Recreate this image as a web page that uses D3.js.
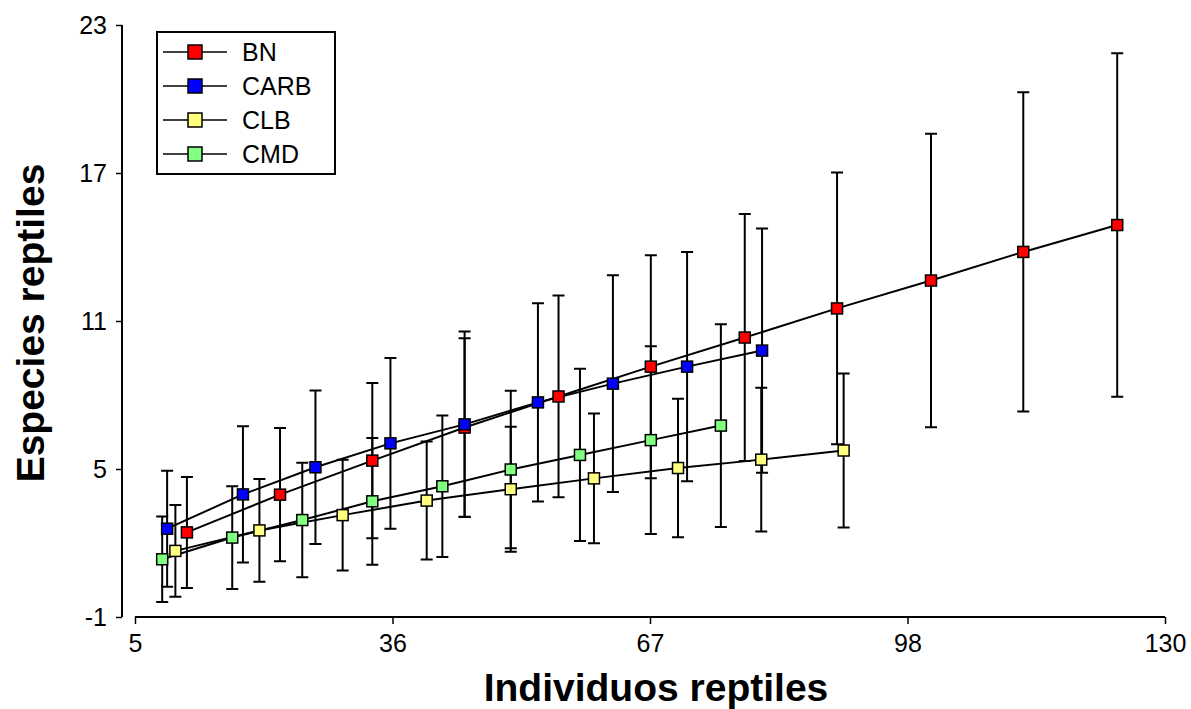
<!DOCTYPE html>
<html>
<head>
<meta charset="utf-8">
<script src="https://cdn.jsdelivr.net/npm/d3@7"></script>
<style>
  body { margin: 0; background: #fff; }
  svg { display: block; font-family: "Liberation Sans", Arial, sans-serif; }
</style>
</head>
<body>
<div id="chart"></div>
<script>
// series names and colours
var seriesNames = ["BN", "CARB", "CLB", "CMD"];
var seriesColors = ["#ff0000", "#0000ff", "#ffff80", "#80ff80"];

// individuals (x), species (y) and error half-widths
var bnX = [11.3, 22.6, 33.8, 45.0, 56.4, 67.6, 79.0, 90.2, 101.6, 112.8, 124.2];
var bnY = [2.43, 3.96, 5.34, 6.68, 7.94, 9.15, 10.33, 11.51, 12.64, 13.80, 14.89];
var bnErr = [2.25, 2.70, 3.15, 3.62, 4.09, 4.52, 5.01, 5.51, 5.95, 6.47, 6.96];

var carbX = [8.9, 18.1, 26.9, 36.0, 45.0, 53.9, 63.0, 72.0, 81.1];
var carbY = [2.58, 3.97, 5.07, 6.04, 6.81, 7.70, 8.46, 9.15, 9.80];
var carbErr = [2.35, 2.76, 3.11, 3.46, 3.76, 4.02, 4.39, 4.65, 4.95];

var clbX = [9.9, 20.1, 30.2, 40.4, 50.6, 60.7, 70.9, 81.0, 91.0];
var clbY = [1.68, 2.51, 3.13, 3.72, 4.18, 4.62, 5.04, 5.38, 5.75];
var clbErr = [1.86, 2.08, 2.24, 2.39, 2.53, 2.63, 2.81, 2.91, 3.12];

var cmdX = [8.3, 16.8, 25.3, 33.8, 42.3, 50.6, 59.0, 67.6, 76.1];
var cmdY = [1.34, 2.22, 2.93, 3.69, 4.30, 4.98, 5.57, 6.17, 6.76];
var cmdErr = [1.73, 2.08, 2.32, 2.57, 2.87, 3.19, 3.49, 3.81, 4.11];

// axis ticks (x ticks fall at even quarters of the range, labels truncated)
var xTickValues = [5, 36.25, 67.5, 98.75, 130];
var xTickLabels = ["5", "36", "67", "98", "130"];
var yTickValues = [-1, 5, 11, 17, 23];
var yTickLabels = ["-1", "5", "11", "17", "23"];

var xLabel = "Individuos reptiles";
var yLabel = "Especies reptiles";

function makeSeries(name, color, xs, ys, errs) {
    return {
        name: name,
        color: color,
        points: xs.map(function(x, i) { return {x: x, y: ys[i], e: errs[i]}; })
    };
}

var series = [
    makeSeries(seriesNames[0], seriesColors[0], bnX, bnY, bnErr),
    makeSeries(seriesNames[1], seriesColors[1], carbX, carbY, carbErr),
    makeSeries(seriesNames[2], seriesColors[2], clbX, clbY, clbErr),
    makeSeries(seriesNames[3], seriesColors[3], cmdX, cmdY, cmdErr)
];

var width = 1191, height = 709;

var x = d3.scaleLinear()
    .domain([5, 130])
    .range([135, 1165]);

var y = d3.scaleLinear()
    .domain([-1, 23])
    .range([617, 25]);

var svg = d3.select("#chart").append("svg")
    .attr("width", width)
    .attr("height", height);

// detached axes
var xAxis = d3.axisBottom(x)
    .tickValues(xTickValues)
    .tickSize(7)
    .tickPadding(9)
    .tickFormat(function(d, i) { return xTickLabels[i]; });

var yAxis = d3.axisLeft(y)
    .tickValues(yTickValues)
    .tickSize(6)
    .tickPadding(9)
    .tickFormat(function(d, i) { return yTickLabels[i]; });

var gx = svg.append("g")
    .attr("transform", "translate(0,617)")
    .call(xAxis);

var gy = svg.append("g")
    .attr("transform", "translate(122,0)")
    .call(yAxis);

[gx, gy].forEach(function(g) {
    g.select(".domain").attr("stroke", "#000").attr("stroke-width", 2);
    g.selectAll(".tick line").attr("stroke", "#000").attr("stroke-width", 1.5);
    g.selectAll(".tick text")
        .attr("fill", "#000")
        .style("font-family", "'Liberation Sans', Arial, sans-serif")
        .style("font-size", "25px");
});
gx.select(".domain").attr("d", "M135,0H1165");
gy.select(".domain").attr("d", "M0,25V617");
gx.selectAll(".tick text").attr("dy", "0.76em");

svg.append("text")
    .attr("x", 656)
    .attr("y", 701)
    .attr("text-anchor", "middle")
    .style("font-size", "39px")
    .style("font-weight", "bold")
    .text(xLabel);

svg.append("text")
    .attr("transform", "translate(44,323) rotate(-90)")
    .attr("text-anchor", "middle")
    .style("font-size", "39px")
    .style("font-weight", "bold")
    .text(yLabel);

var line = d3.line()
    .x(function(d) { return x(d.x); })
    .y(function(d) { return y(d.y); });

var plot = svg.append("g");
var capHalf = 6;

// error bars
series.forEach(function(s) {
    var eb = plot.append("g")
        .attr("stroke", "#000")
        .attr("stroke-width", 2)
        .attr("fill", "none");
    eb.selectAll("path")
        .data(s.points)
        .enter().append("path")
        .attr("d", function(d) {
            var cx = x(d.x), top = y(d.y + d.e), bot = y(d.y - d.e);
            return "M" + (cx - capHalf) + "," + top + "H" + (cx + capHalf) +
                   "M" + cx + "," + top + "V" + bot +
                   "M" + (cx - capHalf) + "," + bot + "H" + (cx + capHalf);
        });
});

// lines
series.forEach(function(s) {
    plot.append("path")
        .datum(s.points)
        .attr("d", line)
        .attr("fill", "none")
        .attr("stroke", "#000")
        .attr("stroke-width", 2);
});

// markers
var ms = 11;
series.forEach(function(s) {
    plot.append("g").selectAll("rect")
        .data(s.points)
        .enter().append("rect")
        .attr("x", function(d) { return x(d.x) - ms / 2; })
        .attr("y", function(d) { return y(d.y) - ms / 2; })
        .attr("width", ms)
        .attr("height", ms)
        .attr("fill", s.color)
        .attr("stroke", "#000")
        .attr("stroke-width", 1.5);
});

// legend
var legend = svg.append("g");
legend.append("rect")
    .attr("x", 157)
    .attr("y", 32)
    .attr("width", 178)
    .attr("height", 142)
    .attr("fill", "#fff")
    .attr("stroke", "#000")
    .attr("stroke-width", 2);

var rowY = d3.scalePoint()
    .domain(seriesNames)
    .range([52, 154]);

var rows = legend.selectAll("g.row")
    .data(series)
    .enter().append("g")
    .attr("class", "row")
    .attr("transform", function(d) { return "translate(0," + rowY(d.name) + ")"; });

rows.append("line")
    .attr("x1", 163).attr("x2", 227)
    .attr("stroke", "#000")
    .attr("stroke-width", 1.5);

rows.append("rect")
    .attr("x", 188).attr("y", -7)
    .attr("width", 14).attr("height", 14)
    .attr("fill", function(d) { return d.color; })
    .attr("stroke", "#000")
    .attr("stroke-width", 1.5);

rows.append("text")
    .attr("x", 242)
    .attr("dy", "0.36em")
    .style("font-size", "25px")
    .text(function(d) { return d.name; });
</script>
</body>
</html>
